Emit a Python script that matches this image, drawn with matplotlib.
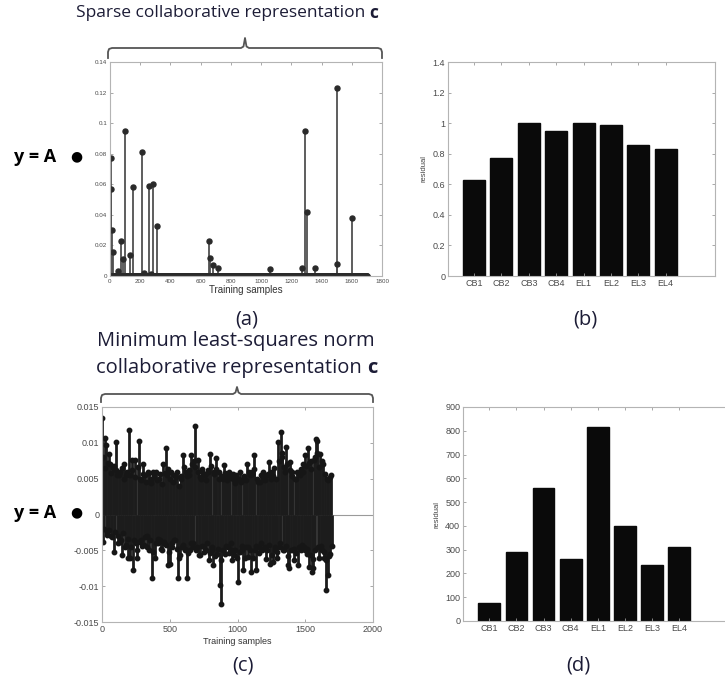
import numpy as np
import matplotlib
matplotlib.use("Agg")
import matplotlib.pyplot as plt
from matplotlib.lines import Line2D

# ---------------- data ----------------
n_samples = 1700
# (a) sparse coefficients: (index, value)
a_idx = [5, 8, 12, 20, 55, 73, 88, 99, 132, 150, 213, 227, 258, 271, 286, 309,
         658, 663, 684, 712, 1059, 1270, 1290, 1306, 1357, 1500, 1504, 1599]
a_val = [0.077, 0.057, 0.030, 0.016, 0.003, 0.023, 0.011, 0.095, 0.014, 0.058,
         0.081, 0.002, 0.059, 0.001, 0.060, 0.033, 0.023, 0.012, 0.007, 0.005,
         0.0045, 0.005, 0.095, 0.042, 0.0055, 0.123, 0.008, 0.038]

# (c) dense coefficients (x 1e-3): visible peaks, one every 10 samples
c_milli = [13.4, -3.9, 10.7, 9.7, -2.5, 8.5, 7.0, -3.0, 6.5, -5.2,
           10.1, 5.5, -4.0, 6.0, -3.5, -5.6, 7.0, -4.5, 5.5, -6.0,
           11.8, -6.1, 7.6, -7.7, 7.6, -4.0, -6.0, 10.3, 5.0, -3.5,
           7.1, -4.2, 5.5, -3.0, 6.0, -5.0, 5.0, -8.8, 6.0, -6.0,
           5.9, -4.0, 5.0, -3.5, -5.0, 7.1, -4.0, 9.3, 5.5, -7.0,
           -6.9, 5.9, -4.0, 5.5, -3.5, 6.0, -8.8, -6.0, 5.0, -4.5,
           8.3, -5.0, 6.0, -8.8, 5.5, -5.0, 8.3, -4.0, 7.5, 12.3,
           -4.6, 7.6, -5.7, 5.0, 6.4, -4.5, 5.5, -5.0, 6.0, -6.4,
           8.5, -5.0, -7.0, 6.0, 7.9, -5.5, 6.0, -9.9, -12.5, 5.0,
           6.9, -5.5, 5.5, -4.5, 6.0, -5.0, -6.4, 5.0, -5.0, 5.5,
           -9.4, 5.0, 5.9, -5.0, -7.8, 5.0, -4.5, 7.1, -5.9, 5.5,
           -8.0, 6.0, 8.3, -5.0, -7.8, 4.5, -4.5, 5.5, -5.0, 6.0,
           -4.5, -6.2, 5.5, 7.3, -6.9, 5.0, -6.6, 6.5, -5.0, -6.0,
           10.1, -4.0, 11.5, 8.0, -5.0, 6.0, 9.4, -7.1, -7.4, 7.3,
           6.0, -5.0, -6.4, 5.0, 6.0, -7.1, 5.5, -5.0, 7.0, -4.5,
           8.3, -5.5, 9.3, -7.3, 7.5, -8.0, -7.4, 8.0, 10.5, 10.3,
           -6.0, 8.5, -5.0, 7.0, -6.0, -10.6, 5.0, -8.5, -5.5, 5.5]
# (c) dense coefficients (x 1e-3): body of the mass, offset by 5 samples
c_milli_body = [8.0, -2.0, 6.5, -2.8, 7.2, -2.2, 5.8, -3.2, 6.8, -2.5,
                6.2, -3.0, 5.5, -3.8, 6.5, -2.6, 5.0, -4.2, 6.0, -3.4,
                5.5, -4.5, 6.2, -3.6, 5.2, -5.0, 6.6, -3.8, 4.8, -4.4,
                5.6, -3.2, 4.6, -4.6, 5.8, -3.6, 4.4, -5.2, 5.4, -4.0,
                4.8, -3.4, 5.6, -4.8, 4.2, -3.8, 5.8, -4.2, 6.4, -5.2,
                5.0, -4.6, 4.6, -3.6, 5.2, -4.8, 4.0, -5.6, 5.4, -4.2,
                6.6, -4.8, 5.4, -5.4, 6.2, -4.0, 7.0, -4.6, 6.6, -5.0,
                6.0, -5.6, 5.2, -4.4, 5.8, -5.2, 4.8, -4.0, 6.2, -5.4,
                6.8, -4.6, 5.6, -5.8, 6.4, -4.8, 5.0, -6.4, 5.4, -5.0,
                5.8, -4.4, 4.8, -5.4, 5.2, -4.0, 5.6, -5.6, 4.4, -6.0,
                5.0, -5.2, 4.6, -4.4, 5.4, -6.0, 4.8, -4.6, 6.0, -5.0,
                5.6, -6.0, 6.4, -4.4, 5.0, -5.4, 4.6, -4.0, 5.2, -4.8,
                4.8, -5.0, 5.6, -4.2, 6.0, -5.6, 5.4, -4.6, 5.0, -5.2,
                7.4, -4.6, 8.6, -5.0, 6.6, -4.4, 7.0, -5.8, 6.2, -5.0,
                5.4, -4.8, 5.0, -5.4, 5.8, -4.6, 6.4, -4.2, 6.0, -5.0,
                6.8, -4.8, 7.2, -5.6, 6.4, -6.2, 7.6, -5.0, 8.6, -4.6,
                6.6, -4.4, 7.4, -5.2, 5.6, -6.4, 4.8, -5.8, 5.2, -4.4]
c_step = 10
c_body_offset = 5

classes = ["CB1", "CB2", "CB3", "CB4", "EL1", "EL2", "EL3", "EL4"]
b_resid = [0.627, 0.769, 0.998, 0.948, 0.999, 0.990, 0.856, 0.832]
d_resid = [74, 291, 560, 260, 816, 399, 235, 312]

# ---------------- figure ----------------
W, H = 725, 679
fig = plt.figure(figsize=(W / 100, H / 100), dpi=100)
fig.patch.set_facecolor("white")

def rect(l, t, r, b):
    return [l / W, 1 - b / H, (r - l) / W, (b - t) / H]

TICKFONT = "Liberation Sans"
TXT = "#1c1c36"

def style_axes(ax, fs):
    for s in ax.spines.values():
        s.set_color("#b4b4b4")
        s.set_linewidth(0.8)
    ax.tick_params(direction="in", top=True, right=True, length=2.5,
                   width=0.6, color="#9a9a9a", labelsize=fs,
                   labelcolor="#4a4a4a", pad=2)
    for lab in ax.get_xticklabels() + ax.get_yticklabels():
        lab.set_fontfamily(TICKFONT)

def fmt(v):
    s = ("%.3f" % v).rstrip("0").rstrip(".")
    return "0" if s in ("-0", "0") else s

# (a)
ax_a = fig.add_axes(rect(110, 62, 382, 276))
c_sparse = np.zeros(n_samples)
c_sparse[a_idx] = a_val
ml, sl, bl = ax_a.stem(np.arange(n_samples), c_sparse, linefmt="-", basefmt=" ")
plt.setp(sl, color="#505050", linewidth=1.3)
plt.setp(ml, color="#2a2a2a", markersize=3.6, markerfacecolor="#2a2a2a")
ax_a.set_xlim(0, 1800)
ax_a.set_ylim(0, 0.14)
ax_a.set_xticks(np.arange(0, 1801, 200))
ax_a.set_yticks(np.arange(0, 0.141, 0.02))
ax_a.set_yticklabels([fmt(v) for v in np.arange(0, 0.141, 0.02)])
ax_a.set_xlabel("Training samples", fontsize=7, color="#333333",
                family=TICKFONT, labelpad=1)
style_axes(ax_a, 4.5)

# (b)
ax_b = fig.add_axes(rect(448, 62, 715, 276))
xb = np.arange(1, len(classes) + 1)
ax_b.bar(xb, b_resid, width=0.8, color="#0a0a0a", edgecolor="#0a0a0a")
ax_b.set_xlim(0.05, 9.8)
ax_b.set_ylim(0, 1.4)
ax_b.set_xticks(xb)
ax_b.set_xticklabels(classes)
yt = np.round(np.arange(0, 1.41, 0.2), 1)
ax_b.set_yticks(yt)
ax_b.set_yticklabels([fmt(v) for v in yt])
ax_b.set_ylabel("residual", fontsize=5.5, color="#444444", family=TICKFONT,
                labelpad=4)
style_axes(ax_b, 6.5)

# (c)
ax_c = fig.add_axes(rect(102, 407, 373, 622))
main_x = np.arange(len(c_milli)) * c_step
body_x = np.arange(len(c_milli_body)) * c_step + c_body_offset
xc = np.concatenate([main_x, body_x])
yc = np.concatenate([c_milli, c_milli_body]) * 1e-3
order = np.argsort(xc)
xc, yc = xc[order], yc[order]
ax_c.axhline(0, color="#9a9a9a", linewidth=0.8, zorder=0)
ml, sl, bl = ax_c.stem(xc, yc, linefmt="-", basefmt=" ")
plt.setp(sl, color="#1c1c1c", linewidth=2.0)
plt.setp(ml, color="#161616", markersize=3.2, markerfacecolor="#161616")
ax_c.set_xlim(0, 2000)
ax_c.set_ylim(-0.015, 0.015)
ax_c.set_xticks(np.arange(0, 2001, 500))
ytc = np.round(np.arange(-0.015, 0.0151, 0.005), 3)
ax_c.set_yticks(ytc)
ax_c.set_yticklabels([fmt(v) for v in ytc])
ax_c.set_xlabel("Training samples", fontsize=6.5, color="#333333",
                family=TICKFONT, labelpad=2)
style_axes(ax_c, 6.5)

# (d)
ax_d = fig.add_axes(rect(463, 407, 728, 621))
ax_d.bar(xb, d_resid, width=0.8, color="#0a0a0a", edgecolor="#0a0a0a")
ax_d.set_xlim(0.03, 9.8)
ax_d.set_ylim(0, 900)
ax_d.set_xticks(xb)
ax_d.set_xticklabels(classes)
ax_d.set_yticks(np.arange(0, 901, 100))
ax_d.set_ylabel("residual", fontsize=5.5, color="#444444", family=TICKFONT,
                labelpad=3)
style_axes(ax_d, 6.5)

# ---------------- annotations ----------------
def fx(x):
    return x / W

def fy(y):
    return 1 - y / H

renderer = fig.canvas.get_renderer()

def mixed_text(parts, cx, cy, size, family="Open Sans"):
    """parts: list of (text, weight); centred at pixel (cx, cy)."""
    widths = []
    arts = []
    for s, w in parts:
        t = fig.text(0, 0, s, fontsize=size, fontweight=w, family=family,
                     color=TXT, va="center", ha="left")
        widths.append(t.get_window_extent(renderer).width)
        arts.append(t)
    total = sum(widths)
    x = cx - total / 2
    for t, w in zip(arts, widths):
        t.set_position((fx(x), fy(cy)))
        x += w

def brace(x0, x1, xm, ybar, yend, ytip):
    r = 4
    xs = [x0, x0, x0 + 1, x0 + r, xm - 4, xm - 1.5, xm, xm + 1.5, xm + 4,
          x1 - r, x1 - 1, x1, x1]
    ys = [yend, ybar + r, ybar + 1, ybar, ybar, ybar - 1.5, ytip, ybar - 1.5,
          ybar, ybar, ybar + 1, ybar + r, yend]
    fig.add_artist(Line2D([fx(v) for v in xs], [fy(v) for v in ys],
                          transform=fig.transFigure, color="#555555",
                          linewidth=1.3, solid_joinstyle="round"))

mixed_text([("Sparse collaborative representation ", "normal"), ("c", "bold")],
           227, 13, 12.5)
brace(108, 382, 245, 48, 58, 38)
mixed_text([("(a)", "normal")], 247, 319, 14.5)
mixed_text([("(b)", "normal")], 585, 319, 14.5)
mixed_text([("Minimum least-squares norm", "normal")], 236, 341, 14.5)
mixed_text([("collaborative representation ", "normal"), ("c", "bold")],
           237, 368, 14.5)
brace(101, 373, 237, 394, 402, 387)
mixed_text([("(c)", "normal")], 243, 666, 14.5)
mixed_text([("(d)", "normal")], 578, 665, 14.5)

for yy in (157, 513):
    fig.text(fx(14), fy(yy), "y = A", fontsize=13, fontweight="bold",
             family="Open Sans", color="#000000", va="center", ha="left")
    fig.text(fx(76), fy(yy - 1), "\u25CF", fontsize=10, family="DejaVu Sans",
             color="#000000", va="center", ha="center")

fig.savefig("out.png", dpi=100, facecolor="white")
